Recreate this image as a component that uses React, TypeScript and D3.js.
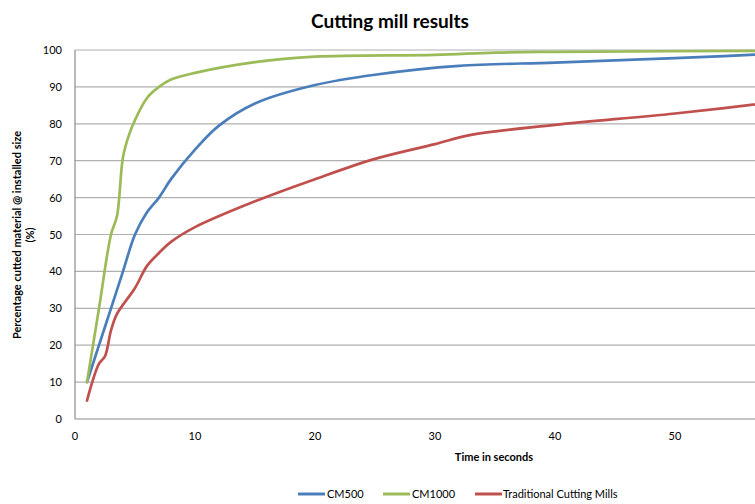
import React from "react";
import * as d3 from "d3";

const timeCM500 = [1, 2, 3, 4, 5, 6, 7, 8, 10, 12, 15, 20, 25, 32, 40, 50, 60];
const valCM500 = [10, 20, 30, 40, 50, 56, 60, 65, 73, 79.5, 85.5, 90.5, 93.3, 95.7, 96.6, 97.8, 99.2];

const timeCM1000 = [1, 2, 3, 3.5, 4, 4.5, 5, 6, 7, 8, 10, 15, 20, 30, 35, 40, 60];
const valCM1000 = [10, 30, 50, 55, 71, 77, 81, 87, 90, 92, 93.8, 96.7, 98.2, 98.7, 99.3, 99.5, 99.8];

const timeTrad = [1, 2, 2.5, 3, 3.5, 5, 6, 7, 8, 10, 15, 20, 25, 30, 33, 40, 50, 60];
const valTrad = [5, 15, 17, 24, 28.5, 35.5, 41.5, 45, 48, 52, 59, 65, 70.5, 74.5, 77, 79.7, 82.8, 86.5];

const seriesNames = ["CM500", "CM1000", "Traditional Cutting Mills"];
const xTicks = [0, 10, 20, 30, 40, 50];
const yTicks = [0, 10, 20, 30, 40, 50, 60, 70, 80, 90, 100];

const colors = ["#4A7EBB", "#9BBB59", "#C0504D"];
const FONT = "Lato, 'Open Sans', sans-serif";

export default function App() {
  const W = 755;
  const H = 504;
  const x = d3.scaleLinear().domain([0, 70]).range([75, 915]);
  const y = d3.scaleLinear().domain([0, 100]).range([419, 50]);

  const series = [
    { name: seriesNames[0], t: timeCM500, v: valCM500, color: colors[0] },
    { name: seriesNames[1], t: timeCM1000, v: valCM1000, color: colors[1] },
    { name: seriesNames[2], t: timeTrad, v: valTrad, color: colors[2] },
  ];

  const line = d3
    .line<[number, number]>()
    .x((d) => x(d[0]))
    .y((d) => y(d[1]))
    .curve(d3.curveCatmullRom.alpha(0.5));

  const legendItems = [
    { lx: 298, tx: 327 },
    { lx: 383, tx: 412 },
    { lx: 475, tx: 503 },
  ];

  return (
    <div style={{ position: "fixed", left: 0, top: 0, width: W, height: H, background: "#fff" }}>
      <svg width={W} height={H} style={{ display: "block" }}>
        <defs>
          <clipPath id="plotclip">
            <rect x={x(0)} y={y(100) - 3} width={x(70) - x(0)} height={y(0) - y(100) + 6} />
          </clipPath>
        </defs>
        <text x={390} y={28} textAnchor="middle" fontFamily={FONT} fontWeight="bold" fontSize={19} fill="#000">
          Cutting mill results
        </text>
        {yTicks.map((t) => (
          <g key={"y" + t}>
            {t > 0 && (
              <line x1={x(0)} x2={x(70)} y1={y(t)} y2={y(t)} stroke="#b0b0b0" strokeWidth={1.2} />
            )}
            <text x={62} y={y(t) + 4} textAnchor="end" fontFamily={FONT} fontSize={11} fill="#000">
              {t}
            </text>
          </g>
        ))}
        <line x1={x(0)} x2={x(0)} y1={y(100)} y2={y(0)} stroke="#8c8c8c" strokeWidth={1.2} />
        <line x1={x(0)} x2={x(70)} y1={y(0)} y2={y(0)} stroke="#8c8c8c" strokeWidth={1.2} />
        {xTicks.map((t) => (
          <text key={"x" + t} x={x(t)} y={440} textAnchor="middle" fontFamily={FONT} fontSize={11} fill="#000">
            {t}
          </text>
        ))}
        <g clipPath="url(#plotclip)">
          {series.map((s) => (
            <path
              key={s.name}
              d={line(s.t.map((t, i) => [t, s.v[i]] as [number, number])) || ""}
              fill="none"
              stroke={s.color}
              strokeWidth={2.7}
              strokeLinejoin="round"
              strokeLinecap="round"
            />
          ))}
        </g>
        <text x={494} y={461} textAnchor="middle" fontFamily={FONT} fontWeight="bold" fontSize={11} fill="#000">
          Time in seconds
        </text>
        <g transform="translate(21,235) rotate(-90)">
          <text x={0} y={0} textAnchor="middle" fontFamily={FONT} fontWeight="bold" fontSize={11} fill="#000">
            Percentage cutted material @ installed size
          </text>
          <text x={0} y={13} textAnchor="middle" fontFamily={FONT} fontWeight="bold" fontSize={11} fill="#000">
            (%)
          </text>
        </g>
        {series.map((s, i) => (
          <g key={"lg" + i}>
            <line x1={legendItems[i].lx} x2={legendItems[i].lx + 27} y1={494} y2={494} stroke={s.color} strokeWidth={3} />
            <text x={legendItems[i].tx} y={498} fontFamily={FONT} fontSize={11} fill="#000">
              {s.name}
            </text>
          </g>
        ))}
      </svg>
    </div>
  );
}
